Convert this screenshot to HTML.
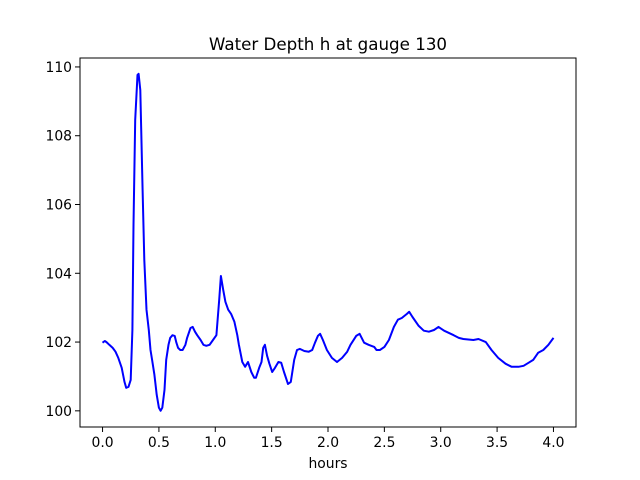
<!DOCTYPE html>
<html><head><meta charset="utf-8"><style>
body{margin:0;background:#fff}
svg{display:block;font-family:"DejaVu Sans","Liberation Sans",sans-serif}
</style></head><body>
<svg id="chart" width="640" height="480" viewBox="0 0 640 480">
<rect width="640" height="480" fill="#fff"/>
<text x="328" y="50" font-size="16.7" text-anchor="middle">Water Depth h at gauge 130</text>
<g id="xt"></g>
<g id="yt"></g>
<path id="line" fill="none" stroke="#0000ff" stroke-width="2" stroke-linejoin="round"/>
<rect x="80" y="58" width="496" height="369" fill="none" stroke="#000" stroke-width="1"/>
<text x="328" y="468" font-size="13.9" text-anchor="middle">hours</text>
</svg>
<script>
const hours=[0,0.02,0.035,0.06,0.09,0.115,0.14,0.17,0.195,0.21,0.23,0.25,0.265,0.275,0.29,0.31,0.32,0.335,0.355,0.37,0.39,0.41,0.425,0.44,0.46,0.48,0.5,0.515,0.53,0.55,0.565,0.585,0.6,0.62,0.64,0.655,0.67,0.69,0.71,0.735,0.75,0.78,0.8,0.82,0.84,0.87,0.895,0.92,0.95,0.98,1.01,1.035,1.05,1.07,1.09,1.115,1.14,1.17,1.195,1.21,1.24,1.265,1.29,1.32,1.345,1.36,1.39,1.41,1.425,1.44,1.46,1.48,1.505,1.53,1.56,1.585,1.61,1.645,1.67,1.7,1.725,1.75,1.79,1.83,1.86,1.885,1.91,1.93,1.955,1.99,2.035,2.08,2.125,2.17,2.2,2.25,2.28,2.32,2.36,2.41,2.43,2.46,2.5,2.54,2.585,2.62,2.655,2.7,2.72,2.75,2.805,2.85,2.895,2.94,2.98,3.03,3.115,3.16,3.2,3.29,3.335,3.4,3.45,3.51,3.575,3.63,3.69,3.735,3.78,3.82,3.865,3.91,3.955,4.0];
const depth=[101.98,102.03,102.0,101.92,101.83,101.72,101.54,101.25,100.84,100.67,100.7,100.9,102.35,105.4,108.46,109.77,109.8,109.33,106.42,104.39,102.94,102.35,101.77,101.48,101.05,100.47,100.09,100.0,100.09,100.61,101.48,101.92,102.12,102.2,102.18,101.98,101.83,101.77,101.77,101.92,102.12,102.41,102.44,102.3,102.2,102.06,101.92,101.89,101.92,102.06,102.2,103.23,103.92,103.52,103.17,102.94,102.82,102.59,102.2,101.92,101.42,101.28,101.42,101.13,100.96,100.96,101.25,101.42,101.83,101.92,101.6,101.37,101.13,101.25,101.42,101.4,101.13,100.78,100.84,101.48,101.77,101.8,101.74,101.72,101.77,101.98,102.18,102.24,102.06,101.77,101.54,101.42,101.54,101.72,101.92,102.18,102.24,101.98,101.92,101.86,101.77,101.77,101.86,102.06,102.44,102.65,102.7,102.82,102.88,102.73,102.47,102.33,102.3,102.35,102.44,102.33,102.2,102.12,102.09,102.06,102.09,102.0,101.77,101.54,101.37,101.28,101.28,101.31,101.4,101.48,101.69,101.77,101.92,102.12];
const xTicks=[0,0.5,1,1.5,2,2.5,3,3.5,4];
const xTickLabels=["0.0","0.5","1.0","1.5","2.0","2.5","3.0","3.5","4.0"];
const yTicks=[100,102,104,106,108,110];
const yTickLabels=["100","102","104","106","108","110"];
const X0=80,X1=576,Y0=427,Y1=58,xmin=-0.2,xmax=4.2,ymin=99.53,ymax=110.26;
const sx=v=>X0+(v-xmin)/(xmax-xmin)*(X1-X0);
const sy=v=>Y0-(v-ymin)/(ymax-ymin)*(Y0-Y1);
const NS="http://www.w3.org/2000/svg";
const xt=document.getElementById('xt'),yt=document.getElementById('yt');
xTicks.forEach((t,i)=>{
  const l=document.createElementNS(NS,'line');
  
  
  l.setAttribute('x1',sx(t));l.setAttribute('x2',sx(t));l.setAttribute('y1',Y0);l.setAttribute('y2',Y0+5);l.setAttribute('stroke','#000');
  xt.appendChild(l);
  const tx=document.createElementNS(NS,'text');
  
  
  tx.setAttribute('x',sx(t));tx.setAttribute('y',Y0+20);tx.setAttribute('font-size','13.9');tx.setAttribute('text-anchor','middle');
  tx.textContent=xTickLabels[i];xt.appendChild(tx);
});
yTicks.forEach((t,i)=>{
  const l=document.createElementNS(NS,'line');
  
  
  l.setAttribute('x1',X0-5);l.setAttribute('x2',X0);l.setAttribute('y1',sy(t));l.setAttribute('y2',sy(t));l.setAttribute('stroke','#000');
  yt.appendChild(l);
  const tx=document.createElementNS(NS,'text');
  
  
  tx.setAttribute('x',X0-8);tx.setAttribute('y',sy(t)+5);tx.setAttribute('font-size','13.9');tx.setAttribute('text-anchor','end');
  tx.textContent=yTickLabels[i];yt.appendChild(tx);
});
document.getElementById('line').setAttribute('d',hours.map((h,i)=>(i?'L':'M')+sx(h).toFixed(1)+' '+sy(depth[i]).toFixed(1)).join(' '));
</script>
</body></html>
